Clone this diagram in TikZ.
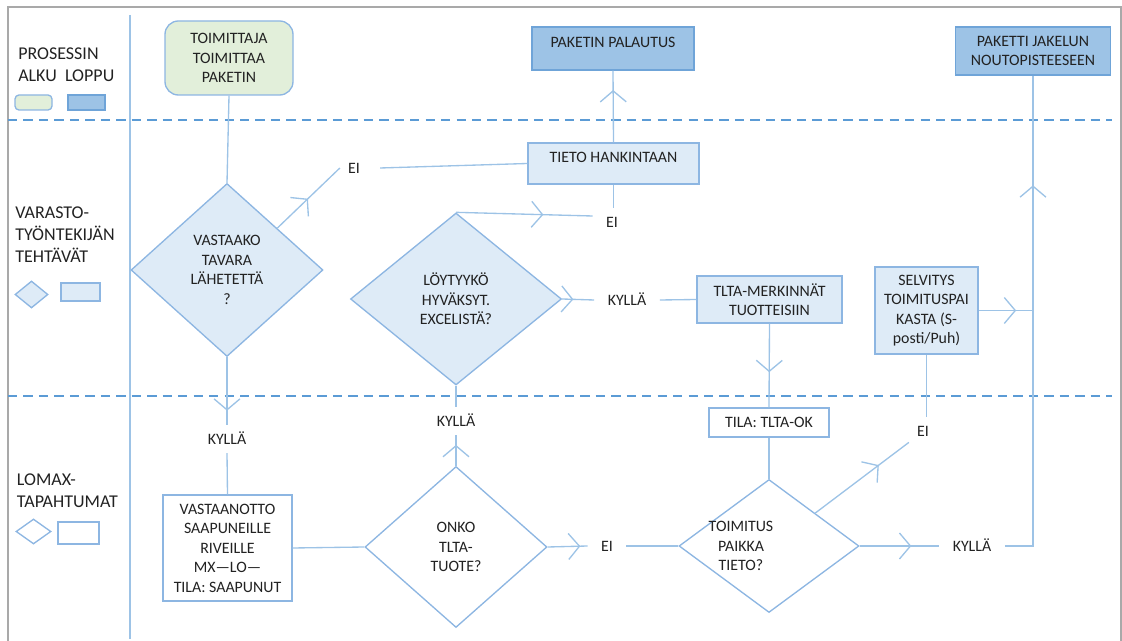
\documentclass[tikz,border=0pt]{standalone}
\usepackage{fontspec}
\setmainfont{Carlito}
\usetikzlibrary{shapes.geometric,arrows.meta,decorations.markings,calc}

\definecolor{framegray}{HTML}{A9A9A9}
\definecolor{lanedash}{HTML}{5B9BD5}
\definecolor{wireblue}{HTML}{9DC3E6}
\definecolor{edgeblue}{HTML}{8DB6E2}
\definecolor{palefill}{HTML}{DEEBF7}
\definecolor{startfill}{HTML}{E2EFDA}
\definecolor{endfill}{HTML}{9DC3E6}
\definecolor{endedge}{HTML}{6FA4D8}
\definecolor{ink}{HTML}{222222}

\begin{document}
\begin{tikzpicture}[x=0.75pt,y=-0.75pt,
  sz/.style 2 args={minimum width=#1*0.75pt, minimum height=#2*0.75pt},
  txt/.style={font=\fontsize{11.9}{14.6}\selectfont, text=ink, align=center},
  legendtxt/.style={font=\fontsize{13.5}{16.5}\selectfont, text=ink, align=left, inner sep=0pt, anchor=west},
  procbox/.style={txt, rectangle, draw=edgeblue, line width=1pt, fill=palefill, inner sep=0pt},
  eventbox/.style={procbox, fill=white},
  endbox/.style={procbox, fill=endfill, draw=endedge},
  startbox/.style={procbox, fill=startfill, rounded corners=10pt},
  decision/.style={txt, diamond, draw=edgeblue, line width=1pt, fill=palefill, inner sep=0pt},
  check/.style={decision, fill=white},
  answer/.style={txt, inner xsep=10pt, inner ysep=6.5pt, text height=7.7pt, text depth=0pt},
  topline/.style={text height=7.7pt, text depth=9.8pt},
  wire/.style={draw=wireblue, line width=1pt},
  flow/.style={postaction={decorate}, decoration={markings,
    mark=at position #1 with {\arrow[wireblue]{Straight Barb[length=8.25pt,width=19.5pt]}}}},
  lanesep/.style={draw=lanedash, line width=2pt, dash pattern=on 7pt off 4.6pt}
]
\useasboundingbox (0,0) rectangle (1122,641);

% outer frame, lane column and lane separators
\draw[framegray, line width=1.5pt] (8,641) -- (8,7) -- (1121,7) -- (1121,641);
\draw[wire, line width=1.1pt] (130,15) -- (130,639);
\draw[lanesep] (8,120) -- (1112,120);
\draw[lanesep] (8,396) -- (1112,396);

% legend column
\node[legendtxt] (lgstarttxt) at (18,65) {PROSESSIN\\ALKU~~LOPPU};
\node[startbox, rounded corners=3pt, sz={37}{15}] (lgstart) at (33.5,102.5) {};
\node[endbox, sz={37}{15}] (lgend) at (86.5,102.5) {};
\node[legendtxt] (lgworktxt) at (15,235) {VARASTO-\\TYÖNTEKIJÄN\\TEHTÄVÄT};
\node[decision, sz={33}{27}] (lgdec) at (31.5,294.5) {};
\node[procbox, sz={39}{18}] (lgproc) at (80.5,292) {};
\node[legendtxt] (lgsystxt) at (16.7,491) {LOMAX-\\TAPAHTUMAT};
\node[check, sz={35}{25}] (lgcheck) at (33.5,531.5) {};
\node[eventbox, sz={41}{22}] (lgevent) at (78.5,533) {};

% process steps
\node[startbox, sz={128}{74}] (start) at (229,58) {TOIMITTAJA\\TOIMITTAA\\PAKETIN};
\node[endbox, topline, sz={162}{43}] (palautus) at (613,48.5) {PAKETIN PALAUTUS};
\node[endbox, sz={155}{48}] (paketti) at (1033,51) {PAKETTI JAKELUN\\NOUTOPISTEESEEN};
\node[procbox, topline, sz={171}{41}] (tieto) at (613.5,163.5) {TIETO HANKINTAAN};
\node[decision, sz={192}{173}] (vastaako) at (227,270) {VASTAAKO\\TAVARA\\LÄHETETTÄ\\?};
\node[decision, sz={211}{172}] (loytyyko) at (456,299) {LÖYTYYKÖ\\HYVÄKSYT.\\EXCELISTÄ?};
\node[procbox, sz={145}{47}] (tlta) at (769.5,299.5) {TLTA-MERKINNÄT\\TUOTTEISIIN};
\node[procbox, sz={103}{87}] (selvitys) at (926.5,310.5) {SELVITYS\\TOIMITUSPAI\\KASTA (S-\\posti/Puh)};
\node[eventbox, sz={120}{29}] (tila) at (769,422.5) {TILA: TLTA-OK};
\node[eventbox, sz={129}{106}] (vastaanotto) at (227.5,548) {VASTAANOTTO\\SAAPUNEILLE\\RIVEILLE\\MX—LO—\\TILA: SAAPUNUT};
\node[check, sz={182}{161}] (onko) at (456,547) {ONKO\\TLTA-\\TUOTE?};
\node[check, sz={180}{133}] (toimitus) at (769,546) {};
\node[txt] (toimitustxt) at (741,546) {TOIMITUS\\PAIKKA\\TIETO?};

% answers on the branches
\node[answer] (ei1) at (354,168) {EI};
\node[answer] (ei2) at (612,222) {EI};
\node[answer] (kylla1) at (227,439) {KYLLÄ};
\node[answer] (kylla2) at (456,421) {KYLLÄ};
\node[answer] (kylla3) at (627,300) {KYLLÄ};
\node[answer] (ei3) at (607,546) {EI};
\node[answer] (ei4) at (923,431) {EI};
\node[answer] (kylla4) at (972,546) {KYLLÄ};

% connectors
\draw[wire] (start.south) -- (vastaako.north);
\draw[wire, flow=0.79] (vastaako.south) -- (kylla1.north);
\draw[wire] (kylla1.south) -- (vastaanotto.north);
\draw[wire] (vastaanotto.east) -- (onko.west);
\draw[wire, flow=0.68] (onko.north) -- (kylla2.south);
\draw[wire] (kylla2.north) -- (loytyyko.south);
\draw[wire, flow=0.35] (loytyyko.east) -- (kylla3.west);
\draw[wire] (kylla3.east) -- (tlta.west);
\draw[wire, flow=0.64] (loytyyko.north) -- ([yshift=4.5pt]ei2.west);
\draw[wire] (tieto.south) -- (tieto.south |- ei2.north);
\draw[wire, flow=0.73] (tieto.north) -- (palautus.south);
\draw[wire] (tieto.west) -- ([xshift=5pt]ei1.east);
\draw[wire, flow=0.49] ($(vastaako.north)!0.52!(vastaako.east)$) -- ([xshift=4pt]ei1.west);
\draw[wire, flow=0.82] (onko.east) -- (ei3.west);
\draw[wire] (ei3.east) -- (toimitus.west);
\draw[wire, flow=0.58] (tlta.south) -- (tila.north);
\draw[wire] (tila.south) -- (toimitus.north);
\draw[wire, flow=0.68] ($(toimitus.north)!0.51!(toimitus.east)$) -- ([xshift=4pt,yshift=2pt]ei4.south west);
\draw[wire] (selvitys.south) -- (selvitys.south |- ei4.north);
\coordinate (merge) at (paketti.south |- selvitys.east);
\draw[wire, flow=0.69] (selvitys.east) -- (merge);
\draw[wire, flow=0.65] (toimitus.east) -- (kylla4.west);
\draw[wire, flow=0.78] (kylla4.east) -| (paketti.south);
\end{tikzpicture}
\end{document}
